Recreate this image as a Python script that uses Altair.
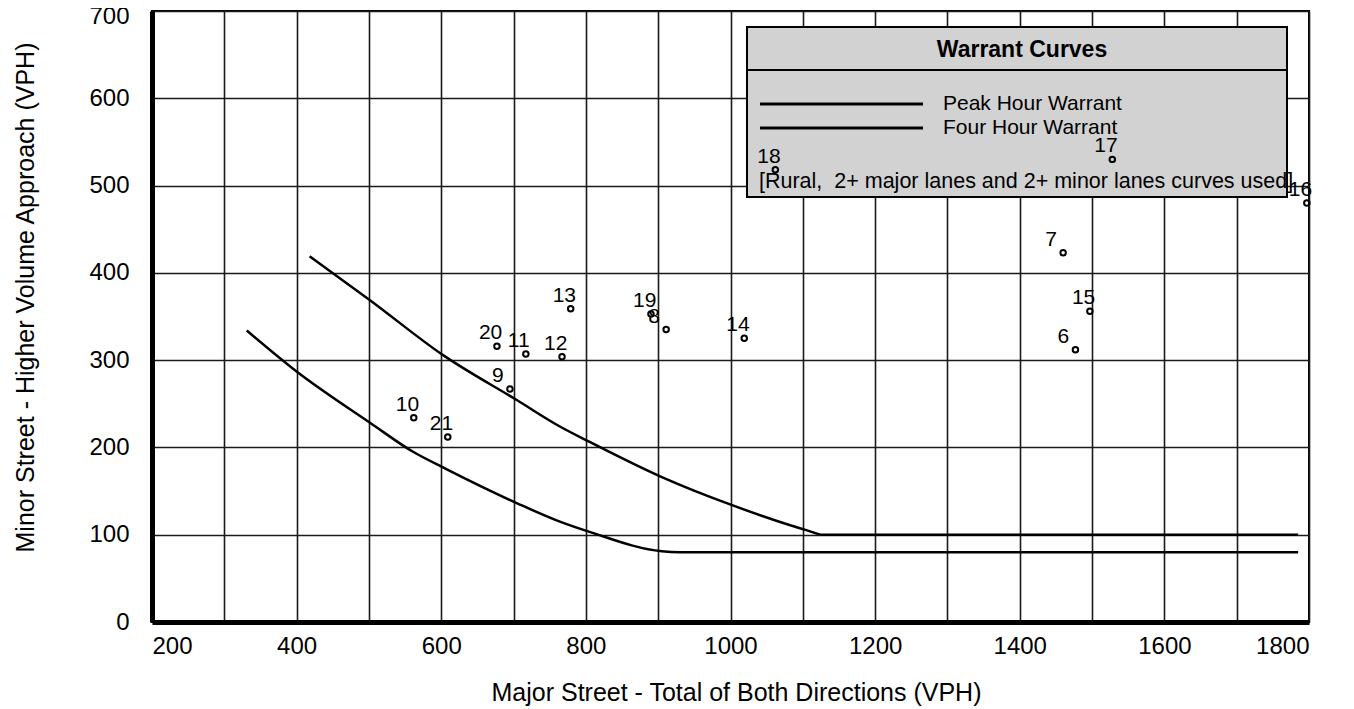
import altair as alt
import pandas as pd

# ---- data ----
site_ids = ["10", "21", "20", "11", "9", "12", "13", "19", "8", "14",
            "7", "15", "6", "16", "18", "17"]
major_vph = [562, 609, 677, 717, 695, 767, 779, 890, 911, 1019,
             1460, 1497, 1477, 1797, 1062, 1528]
minor_vph = [234, 212, 316, 307, 267, 304, 359, 353, 335, 325,
             423, 356, 312, 480, 518, 530]

peak_x = [418, 501, 602, 705, 764, 806, 905, 1005, 1106, 1128, 1785]
peak_y = [419, 369, 306, 254, 224, 206, 166, 133, 105, 100, 100]
four_x = [331, 400, 502, 561, 605, 705, 764, 806, 905, 930, 1785]
four_y = [334, 287, 228, 195, 176, 136, 115, 103, 81, 80, 80]

x_ticks = list(range(200, 1900, 100))
y_ticks = list(range(0, 800, 100))

FONT = "Liberation Sans"
W, H = 1157, 611

pts = pd.DataFrame({"site": site_ids, "major": major_vph, "minor": minor_vph})
curves = pd.concat([
    pd.DataFrame({"major": peak_x, "minor": peak_y, "curve": "Peak Hour Warrant"}),
    pd.DataFrame({"major": four_x, "minor": four_y, "curve": "Four Hour Warrant"}),
])
one = pd.DataFrame({"k": [0]})

xs = alt.Scale(domain=[200, 1800], nice=False, zero=False)
ys = alt.Scale(domain=[0, 700], nice=False)

x_enc = alt.X("major:Q", scale=xs, axis=alt.Axis(
    values=x_ticks, format="d",
    labelExpr="datum.value % 200 == 0 ? datum.label : ''",
    title="Major Street - Total of Both Directions (VPH)",
    titleX=584, titleY=70, titleBaseline="middle", titleAlign="center",
    labelPadding=12,
))
y_enc = alt.Y("minor:Q", scale=ys, axis=alt.Axis(
    values=y_ticks, format="d",
    title="Minor Street - Higher Volume Approach (VPH)",
    titleX=-127, titleY=286, titleAngle=-90, titleBaseline="middle",
    titleAlign="center", labelPadding=23,
    labelOffset={"condition": {"test": "datum.value >= 700", "value": 5}, "value": 0},
))

lines = alt.Chart(curves).mark_line(color="black", strokeWidth=2.5,
                                    interpolate="monotone").encode(
    x=x_enc, y=y_enc, detail="curve:N", order=alt.Order("major:Q"))

box = alt.Chart(one).mark_rect(fill="#d2d2d2", stroke="black", strokeWidth=2).encode(
    x=alt.value(595), x2=alt.value(1135), y=alt.value(16), y2=alt.value(186))
sep = alt.Chart(one).mark_rule(color="black", strokeWidth=2).encode(
    x=alt.value(595), x2=alt.value(1135), y=alt.value(59))
leg1 = alt.Chart(one).mark_rule(color="black", strokeWidth=3).encode(
    x=alt.value(608), x2=alt.value(771), y=alt.value(93))
leg2 = alt.Chart(one).mark_rule(color="black", strokeWidth=3).encode(
    x=alt.value(608), x2=alt.value(771), y=alt.value(117))
title_t = alt.Chart(one).mark_text(
    text="Warrant Curves", font=FONT, fontSize=23, fontWeight="bold",
    align="center", baseline="middle", color="black").encode(
    x=alt.value(870), y=alt.value(39))
t1 = alt.Chart(one).mark_text(
    text="Peak Hour Warrant", font=FONT, fontSize=21, align="left",
    baseline="middle", color="black").encode(x=alt.value(791), y=alt.value(93))
t2 = alt.Chart(one).mark_text(
    text="Four Hour Warrant", font=FONT, fontSize=21, align="left",
    baseline="middle", color="black").encode(x=alt.value(791), y=alt.value(117))
t3 = alt.Chart(one).mark_text(
    text="[Rural,\u00a0 2+ major lanes and 2+ minor lanes curves used]", font=FONT,
    fontSize=21.5, align="left", baseline="middle", color="black").encode(
    x=alt.value(607), y=alt.value(171))

points = alt.Chart(pts).mark_point(
    shape="circle", filled=False, size=30, strokeWidth=2, color="black", opacity=1
).encode(x=x_enc, y=y_enc)
labels = alt.Chart(pts).mark_text(
    align="left", baseline="middle", dx=-18, dy=-13, font=FONT, fontSize=21,
    color="black").encode(x=x_enc, y=y_enc, text="site:N")

chart = alt.layer(lines, box, sep, leg1, leg2, title_t, t1, t2, t3, points, labels).properties(
    width=W, height=H,
    background="white",
    autosize=alt.AutoSizeParams(type="none"),
    padding={"left": 144, "top": 3, "right": 30, "bottom": 85},
).configure_view(
    stroke="black", strokeWidth=2
).configure_axis(
    grid=True, gridColor="#1a1a1a", gridWidth=1.6, gridOpacity=1,
    domainColor="black", domainWidth=5, ticks=False,
    labelFont=FONT, labelFontSize=24, labelColor="black",
    titleFont=FONT, titleFontSize=25, titleColor="black", titleFontWeight="normal",
)

chart.save("out.html", embed_options={"renderer": "svg", "actions": False})
